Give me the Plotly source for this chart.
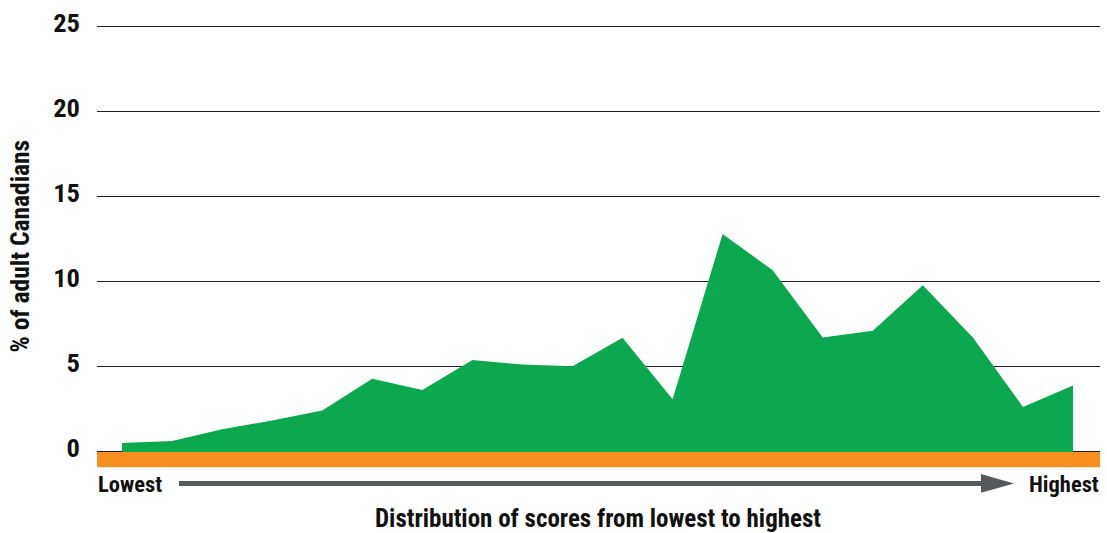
import plotly.graph_objects as go

# Data
positions = list(range(20))
values = [0.53, 0.64, 1.34, 1.85, 2.44, 4.30, 3.64, 5.41, 5.14, 5.04,
          6.72, 3.10, 12.81, 10.69, 6.73, 7.13, 9.80, 6.73, 2.65, 3.91]
y_ticks = [0, 5, 10, 15, 20, 25]
y_tick_labels = ["0", "5", "10", "15", "20", "25"]

FONT = "Roboto Condensed, Liberation Sans Narrow, DejaVu Sans Condensed, sans-serif"
GREEN = "#0ba84f"
ORANGE = "#f7901e"
GREY = "#58595b"

W, H = 1107, 533
ML, MR, MT, MB = 97, 7, 22, 64
PW = W - ML - MR
PH = H - MT - MB


def px(x):
    return (x - ML) / PW


def py(y):
    return (H - MB - y) / PH


fig = go.Figure()
fig.add_trace(go.Scatter(
    x=positions, y=values, mode="lines", fill="tozeroy",
    line=dict(width=0, color=GREEN), fillcolor=GREEN,
    hoverinfo="skip", showlegend=False,
))

shapes = [
    dict(type="rect", xref="paper", yref="y", x0=0, x1=1, y0=-0.9, y1=0,
         fillcolor=ORANGE, line=dict(width=0), layer="above"),
    dict(type="line", xref="paper", yref="paper", x0=px(179), x1=px(986),
         y0=py(483.5), y1=py(483.5), line=dict(color=GREY, width=5)),
    dict(type="path", xref="paper", yref="paper",
         path=f"M {px(981)} {py(474)} L {px(1014)} {py(483.5)} L {px(981)} {py(493)} Z",
         fillcolor=GREY, line=dict(width=0)),
]

annotations = [
    dict(text="Lowest", xref="paper", yref="paper", x=px(96), y=py(484),
         xanchor="left", yanchor="middle", showarrow=False,
         font=dict(family=FONT, size=22.5, color="#111", weight="bold")),
    dict(text="Highest", xref="paper", yref="paper", x=px(1101), y=py(484),
         xanchor="right", yanchor="middle", showarrow=False,
         font=dict(family=FONT, size=22.5, color="#111", weight="bold")),
    dict(text="Distribution of scores from lowest to highest", xref="paper",
         yref="paper", x=px(598), y=py(519), xanchor="center", yanchor="middle",
         showarrow=False, font=dict(family=FONT, size=25, color="#111", weight="bold")),
    dict(text="% of adult Canadians", xref="paper", yref="paper",
         x=px(20), y=py(245), xanchor="center", yanchor="middle", textangle=-90,
         showarrow=False, font=dict(family=FONT, size=25.5, color="#111", weight="bold")),
]

fig.update_layout(
    width=W, height=H,
    margin=dict(l=ML, r=MR, t=MT, b=MB, pad=0),
    paper_bgcolor="white", plot_bgcolor="white",
    showlegend=False,
    xaxis=dict(range=[-0.5, 19.54], showgrid=False, zeroline=False,
               showticklabels=False, showline=False, fixedrange=True),
    yaxis=dict(range=[-1, 25.1], tickvals=y_ticks, ticktext=y_tick_labels,
               showgrid=True, gridcolor="#231f20", gridwidth=1,
               zeroline=False, showline=False, ticks="",
               ticklabelstandoff=16, ticklabelshift=-4,
               tickfont=dict(family=FONT, size=26.5, color="#111", weight="bold"),
               fixedrange=True),
    shapes=shapes,
    annotations=annotations,
)

fig.write_html("out.html", config={"displayModeBar": False})
with open("out.html", "r", encoding="utf-8") as f:
    html = f.read()
html = html.replace("<head>", "<head><style>html,body{margin:0;padding:0;overflow:hidden;}</style>", 1)
with open("out.html", "w", encoding="utf-8") as f:
    f.write(html)
